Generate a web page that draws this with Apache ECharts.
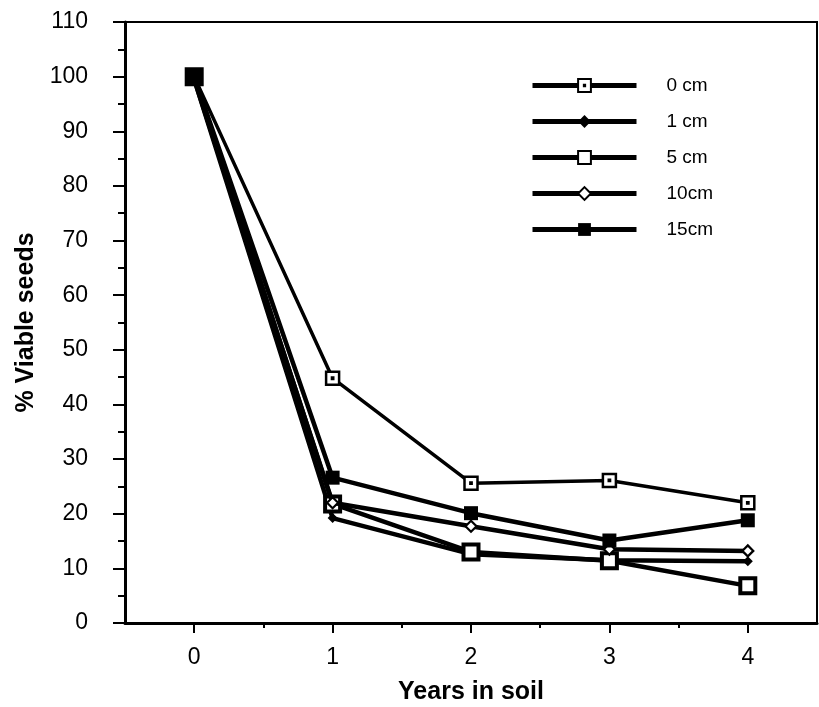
<!DOCTYPE html>
<html>
<head>
<meta charset="utf-8">
<script src="https://cdn.jsdelivr.net/npm/echarts@6/dist/echarts.min.js"></script>
<style>
html,body{margin:0;padding:0;background:#fff;}
#chart{width:819px;height:707px;}
</style>
</head>
<body>
<div id="chart"></div>
<script>
const years = [0, 1, 2, 3, 4];
const seriesNames = ['0 cm', '1 cm', '5 cm', '10cm', '15cm'];
const cm0 = [100, 44.8, 25.6, 26.1, 22.0];
const cm1 = [99.5, 19.2, 12.6, 11.5, 11.3];
const cm5 = [100, 21.8, 13.0, 11.4, 6.8];
const cm10 = [99.5, 22.0, 17.7, 13.5, 13.2];
const cm15 = [100, 26.6, 20.1, 15.1, 18.8];
const xTickValues = [0, 1, 2, 3, 4];
const xMinorValues = [0.5, 1.5, 2.5, 3.5];

const font = 'Liberation Sans, Arial, sans-serif';
function pairs(vals){ return years.map((x,i)=>[x, vals[i]]); }

const styles = [
  {symbol:'path://M0,0H12V12H0Z M5.4,5.4H6.6V6.6H5.4Z', symbolSize:13, color:'#fff', border:2.5, lw:3.5},
  {symbol:'diamond', symbolSize:10, color:'#000', border:0, lw:4.5},
  {symbol:'rect', symbolSize:15, color:'#fff', border:4, lw:4.5},
  {symbol:'diamond', symbolSize:11, color:'#fff', border:2.2, lw:4.5},
  {symbol:'rect', symbolSize:14, color:'#000', border:0, lw:4.5}
];
const dataSets = [cm0, cm1, cm5, cm10, cm15];

const series = seriesNames.map((name, i) => ({
  name: name,
  type: 'line',
  data: pairs(dataSets[i]),
  symbol: styles[i].symbol,
  symbolSize: styles[i].symbolSize,
  showAllSymbol: true,
  lineStyle: {color:'#000', width: styles[i].lw},
  itemStyle: {color: styles[i].color, borderColor:'#000', borderWidth: styles[i].border, opacity:1},
  emphasis: {disabled:true},
  animation: false,
  z: 2 + i
}));

const chart = echarts.init(document.getElementById('chart'), null, {renderer:'canvas'});
chart.setOption({
  backgroundColor: '#fff',
  animation: false,
  grid: {left:125, right:2, top:22, bottom:84, show:true, borderColor:'#000', borderWidth:2, backgroundColor:'transparent', outerBoundsMode:'none', containLabel:false},
  legend: {
    orient:'vertical', left:525, top:71, itemWidth:104, itemHeight:16, itemGap:17,
    data: seriesNames,
    lineStyle:{width:5, color:'#000'},
    textStyle:{fontFamily:font, fontSize:19, color:'#000', padding:[0,0,0,25]},
    selectedMode:false
  },
  xAxis: [{
    type:'value', min:-0.5, max:4.5, interval:0.5,
    name:'Years in soil', nameLocation:'middle', nameGap:57,
    nameTextStyle:{fontFamily:font, fontSize:25, fontWeight:'bold', color:'#000'},
    axisLine:{show:true, onZero:false, lineStyle:{color:'#000', width:3}},
    axisTick:{show:true, length:10, lineStyle:{color:'#000', width:2}, customValues: xTickValues},
    axisLabel:{show:true, margin:23, fontFamily:font, fontSize:23, color:'#000', customValues: xTickValues,
      formatter: v => String(v)},
    splitLine:{show:false}
  },{
    type:'value', min:-0.5, max:4.5, interval:0.5, position:'bottom',
    axisLine:{show:false, onZero:false},
    axisTick:{show:true, length:5, lineStyle:{color:'#000', width:2}, customValues: xMinorValues},
    axisLabel:{show:false},
    splitLine:{show:false}
  }],
  yAxis: {
    type:'value', min:0, max:110, interval:10,
    name:'% Viable seeds', nameLocation:'middle', nameGap:84, nameRotate:90,
    nameTextStyle:{fontFamily:font, fontSize:25, fontWeight:'bold', color:'#000'},
    axisLine:{show:true, onZero:false, lineStyle:{color:'#000', width:3}},
    axisTick:{show:true, length:12, lineStyle:{color:'#000', width:2}},
    minorTick:{show:true, splitNumber:2, length:7, lineStyle:{color:'#000', width:2}},
    axisLabel:{margin:37, fontFamily:font, fontSize:23, color:'#000'},
    splitLine:{show:false}
  },
  series: series
});
</script>
</body>
</html>
